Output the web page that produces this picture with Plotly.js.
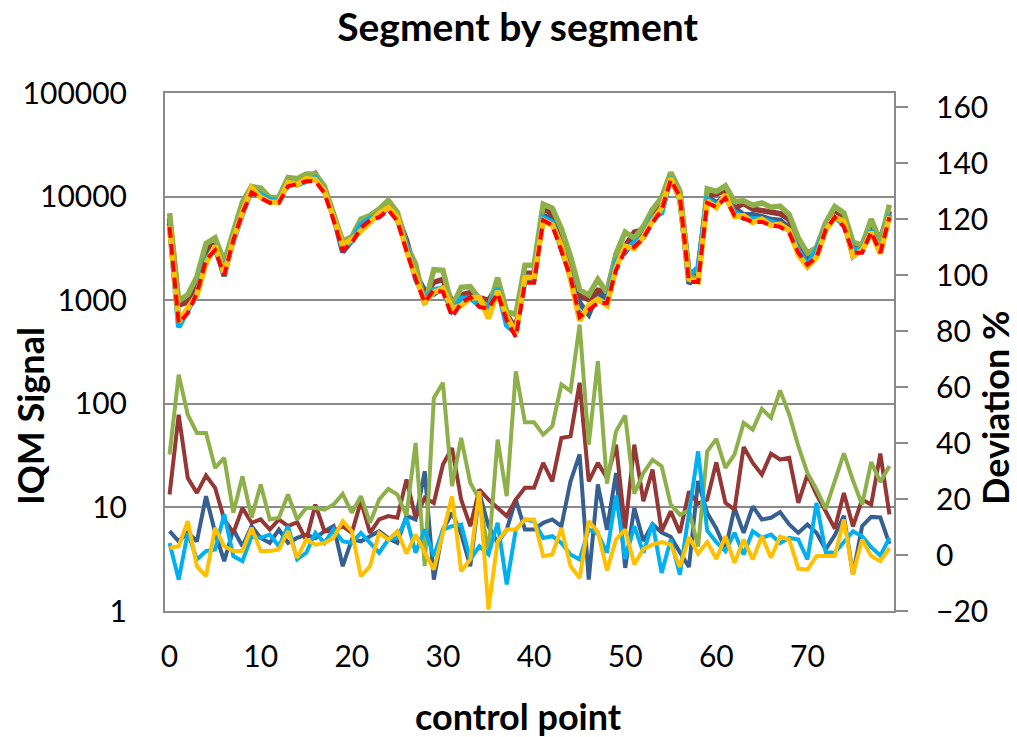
<!DOCTYPE html>
<html>
<head>
<meta charset="utf-8">
<script src="https://cdn.plot.ly/plotly-3.0.1.min.js"></script>
<style>html,body{margin:0;padding:0;background:#fff;}#chart{width:1017px;height:737px;}</style>
</head>
<body>
<div id="chart"></div>
<script>
const controlPoint = [0,1,2,3,4,5,6,7,8,9,10,11,12,13,14,15,16,17,18,19,20,21,22,23,24,25,26,27,28,29,30,31,32,33,34,35,36,37,38,39,40,41,42,43,44,45,46,47,48,49,50,51,52,53,54,55,56,57,58,59,60,61,62,63,64,65,66,67,68,69,70,71,72,73,74,75,76,77,78,79];
const xTickVals = [0,10,20,30,40,50,60,70];
const yTickVals = [1,10,100,1000,10000,100000];
const yTickText = ["1","10","100","1000","10000","100000"];
const y2TickVals = [-20,0,20,40,60,80,100,120,140,160];

// IQM signal (left, log axis)
const refSignal = [5100,600,750,1170,2450,3040,1750,3800,6950,11000,9700,8700,8700,12600,13200,14100,14100,10800,5900,3040,3560,5000,5900,6330,7430,5800,3000,1600,950,1260,1200,690,940,1070,860,830,1170,640,440,1470,1470,5900,5300,3040,1670,690,800,940,940,1950,3040,3260,4000,5600,7430,14500,10000,1500,1500,8700,7940,9700,6600,6200,5700,5700,5300,5100,4460,2870,2200,2600,4770,6330,5100,2870,2870,4560,2870,6330];
const blueSignal = [5530,629,810,1230,2970,3280,1710,4150,7170,12100,10300,9070,9490,13100,14000,15100,14900,11700,6510,2920,3760,5250,6300,6870,7880,6050,3420,1800,1230,1150,1310,794,1010,1030,1050,916,1220,698,527,1600,1600,6580,5970,3350,2110,938,730,1180,1030,2520,2900,3810,4200,6220,8020,15400,10100,1440,1900,10000,8690,9890,7710,6690,6690,6420,6000,5880,4950,3100,2440,2810,4870,6770,5810,2670,3170,5180,3260,6580];
const brownSignal = [6200,901,956,1430,3150,3770,1970,4100,8120,12300,10900,9490,9810,13900,14700,14800,16600,11700,6400,3350,3840,5960,6370,7130,8460,6570,3810,1810,1140,1490,1590,954,1130,1180,1060,994,1370,729,527,1820,1820,7840,6690,4310,2380,1110,1010,1250,1200,2720,3320,4540,4770,7310,8060,16800,10800,1840,1780,10400,10600,11500,7670,8590,7580,7340,7220,6840,6010,3400,2830,3160,5510,6930,6230,3160,3440,5380,3910,7250];
const greenSignal = [6930,986,1130,1680,3520,3990,2360,4370,8900,12500,12100,9810,9860,15300,14900,16500,16500,12600,6960,3700,4100,6050,6580,7580,9180,7050,3420,2240,912,1970,1940,860,1330,1350,1030,834,1650,774,729,2170,2170,8440,7740,4890,2650,1260,1120,1590,1180,2810,4550,3970,5170,7500,9790,17100,11400,1740,1550,11900,11200,12700,8970,9130,8250,8680,7900,8100,6700,3990,2850,3210,5560,8010,6950,3630,3390,6070,3620,8340];
const lightBlueSignal = [5320,547,809,1150,2480,3100,2000,3790,6800,11700,10300,9340,8970,13900,13000,14200,15200,11300,6440,3190,3710,5400,6150,6380,7840,6150,3400,1610,1040,1260,1310,761,1040,1050,887,832,1310,573,480,1660,1650,6260,5660,3170,1670,679,873,1010,948,2360,3000,3600,4030,6240,6950,15300,9300,1730,2060,9470,8310,9840,7120,6210,6190,6050,5690,5320,4730,3030,2170,3080,4820,6380,5350,3110,3060,4690,2860,6720];
const yellowSignal = [5230,619,841,1120,2260,3340,1800,3850,7050,12100,9840,8820,8870,13700,13100,14900,14600,11300,6260,3410,3860,4620,5660,6830,7840,6290,3020,1720,958,1190,1300,835,885,1050,1060,668,1230,698,480,1660,1660,5880,5310,3340,1600,633,897,1020,888,2060,3320,3150,4090,5810,7770,15000,9570,1600,1510,9100,7830,10400,6420,6540,5610,6080,5250,5430,4710,2730,2090,2590,4750,6310,5750,2670,3030,4540,2810,6490];

// Deviation % (right axis)
const blueDev = [8.5,4.9,8,4.9,21,8,-2.2,9.1,3.1,10.3,6.1,4.3,9.1,4.3,6.1,7.3,6,8.5,10.3,-4,5.5,4.9,6.7,8.5,6,4.3,14,12.7,29.9,-8.8,9.1,15,7.5,-4,22.2,10.3,4.3,9.1,19.8,9.1,9.1,11.5,12.7,10.3,26.3,35.9,-8.8,25.2,9,29.3,-4.6,16.8,5,11,8,6.5,1,-4.3,26.4,15,9.5,2,16.8,7.9,17.4,12.7,13.3,15.3,10.9,7.9,10.9,7.9,2,7,14,-7,10.3,13.6,13.4,4];
const brownDev = [21.6,50.1,27.5,22.2,28.4,24,12.7,7.9,16.8,11.5,12.7,9.1,12.7,10.3,11.7,5.3,18,8.5,8.5,10.3,7.9,19.2,7.9,12.7,13.9,13.3,27,13.3,20.4,18.6,32.3,38.2,19.8,10.3,23.4,19.8,16.8,13.9,19.8,24,24,32.9,26.3,41.8,42.4,61.5,26.3,32.9,27.5,39.4,9.3,39.4,19.2,30.5,8.5,15.6,7.9,22.7,18.3,19.8,33.1,18.6,16.2,38.6,32.9,28.7,36.2,34.1,34.7,18.6,28.7,21.6,15.6,9.4,22.1,10.2,19.8,18,36.2,14.5];
const greenDev = [35.9,64.4,50.1,43.6,43.6,31.1,34.7,15.1,28.1,13.3,25.2,12.7,13.3,21.6,12.7,16.8,16.8,16.2,18,21.8,15.1,21,11.5,19.8,23.6,21.6,14,40,-4,56,61.5,24.6,41.8,25.8,19.8,0.5,41.2,21,65.6,47.4,47.4,43,46,60.9,58.5,82.3,39.4,69.2,25.5,44.2,49.8,21.9,29.3,34,31.7,18,14.4,16,3,37,41.5,31.1,35.9,47.2,44.8,52.2,49,58.8,50.2,38.9,29.3,23.4,16.5,26.6,36.3,26.6,18,33.2,26.1,31.8];
const lightBlueDev = [4.3,-8.8,7.9,-1.6,1.4,2,14.5,-0.4,-2.2,6.7,6.1,7.3,3.1,10.3,-1.6,0.8,7.9,4.3,9.1,4.9,4.3,7.9,4.3,0.8,5.5,6.1,13.3,0.8,9.1,-0.4,9.1,10.3,10.9,-1.6,3.1,0.2,11.5,-10.5,9.1,12.7,12,6.1,6.7,4.3,0.2,-1.6,9.1,7.6,0.8,21.2,-1.4,10.3,0.8,11.4,-6.4,5.5,-7,15,37,8.8,4.6,1.4,7.9,0.2,8.5,6.1,7.3,4.3,6.1,5.5,-1.6,18.6,1,0.8,4.9,8.5,6.7,2.8,-0.2,6.1];
const yellowDev = [2.5,3.1,12.1,-4,-7.6,9.7,3.1,1.4,1.4,9.7,1.4,1.4,2,8.5,-1,5.5,3.7,4.3,6.1,12.1,8.5,-7.6,-4,7.9,5.5,8.5,0.5,7.3,0.8,-5.2,7.9,21,-5.8,-1.6,22.8,-19.5,4.9,9.1,9.1,12.7,12.7,-0.4,0.2,9.7,-4,-8.2,12.1,8.2,-5.5,5.5,9.1,-3.4,2.2,3.7,4.6,3.7,-4.3,6.4,0.5,4.6,-1.4,6.7,-2.8,5.5,-1.6,6.7,-1,6.5,5.5,-4.9,-5.2,-0.4,-0.4,-0.4,12.7,-7,5.5,-0.4,-2.2,2.5];

const C = {blue:'#376092', brown:'#953735', green:'#8DB04B', lblue:'#00B0F0', yellow:'#FFC000', red:'#FF0000'};

function line(y, color, axis, width, dash) {
  return {x: controlPoint, y: y, type: 'scatter', mode: 'lines', yaxis: axis,
    line: {color: color, width: width, dash: dash || 'solid'}, hoverinfo: 'skip', showlegend: false};
}

const traces = [
  line(blueDev, C.blue, 'y2', 4),
  line(brownDev, C.brown, 'y2', 4),
  line(greenDev, C.green, 'y2', 4),
  line(lightBlueDev, C.lblue, 'y2', 4),
  line(yellowDev, C.yellow, 'y2', 4),
  line(blueSignal, C.blue, 'y', 5.5),
  line(brownSignal, C.brown, 'y', 5.5),
  line(greenSignal, C.green, 'y', 5.5),
  line(lightBlueSignal, C.lblue, 'y', 5.5),
  line(yellowSignal, C.yellow, 'y', 5.5),
  line(refSignal, C.red, 'y', 4, '11px,6px')
];

const F = 'Lato, "Open Sans", sans-serif';
const grid = '#8a8a8a';
const titleFont = {family: F, size: 36, color: '#000'};
const layout = {
  width: 1017, height: 737,
  margin: {l: 165, r: 123, t: 93, b: 126, pad: 0},
  paper_bgcolor: '#fff', plot_bgcolor: '#fff',
  font: {family: F, size: 30, color: '#000'},
  title: {text: '<b>Segment by segment</b>', font: {family: F, size: 39, color: '#000'},
    x: 0.509, xanchor: 'center', y: 0.963, yanchor: 'middle'},
  xaxis: {range: [-0.5, 79.5], tickvals: xTickVals, ticktext: xTickVals.map(String),
    showgrid: false, zeroline: false, showline: true, linecolor: grid, linewidth: 2, mirror: true,
    ticks: '', ticklabelstandoff: 18, tickfont: {family: F, size: 30}},
  yaxis: {type: 'log', range: [0, 5], tickvals: yTickVals, ticktext: yTickText,
    showgrid: true, gridcolor: grid, gridwidth: 2, zeroline: false,
    showline: true, linecolor: grid, linewidth: 2, mirror: true,
    ticks: '', ticklabelstandoff: 30, tickfont: {family: F, size: 30}},
  yaxis2: {overlaying: 'y', side: 'right', range: [-20, 165], tickvals: y2TickVals,
    showgrid: false, zeroline: false, showline: true, linecolor: grid, linewidth: 2,
    ticks: 'outside', ticklen: 12, tickwidth: 2, tickcolor: grid, ticklabelstandoff: 22,
    tickfont: {family: F, size: 30}},
  annotations: [
    {text: '<b>control point</b>', xref: 'paper', yref: 'paper', x: (518-165)/729, y: (611-716)/518,
      xanchor: 'center', yanchor: 'middle', showarrow: false, font: titleFont},
    {text: '<b>IQM Signal</b>', xref: 'paper', yref: 'paper', x: (30-165)/729, y: (611-416)/518,
      xanchor: 'center', yanchor: 'middle', textangle: -90, showarrow: false, font: titleFont},
    {text: '<b>Deviation %</b>', xref: 'paper', yref: 'paper', x: (995-165)/729, y: (611-408)/518,
      xanchor: 'center', yanchor: 'middle', textangle: -90, showarrow: false, font: titleFont}
  ],
  hovermode: false
};

Plotly.newPlot('chart', traces, layout, {staticPlot: true, displayModeBar: false});
</script>
</body>
</html>
